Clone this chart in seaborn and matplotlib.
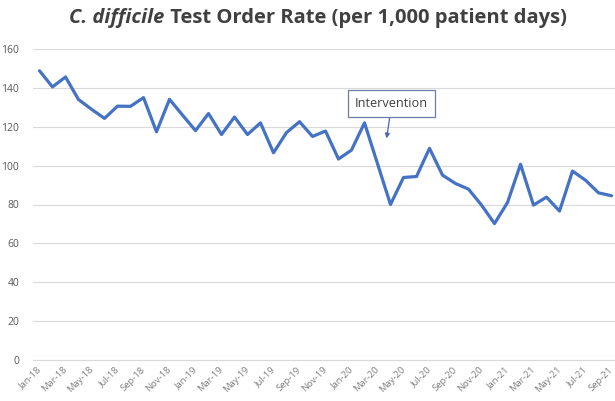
import matplotlib
matplotlib.use('Agg')
import matplotlib.pyplot as plt
import pandas as pd
import seaborn as sns

MONTHS = ['Jan', 'Feb', 'Mar', 'Apr', 'May', 'Jun', 'Jul', 'Aug', 'Sep', 'Oct', 'Nov', 'Dec']
YEARS = ['18', '19', '20', '21']
months = [m + '-' + y for y in YEARS for m in MONTHS][:45]

rate = [148.8, 140.5, 145.6, 134.0, 129.0, 124.3, 130.6, 130.5, 135.0, 117.4,
        134.1, 126.0, 118.0, 126.8, 116.0, 125.0, 116.0, 122.0, 106.6, 117.0,
        122.6, 115.0, 117.8, 103.4, 108.0, 122.0, 101.0, 80.0, 93.9, 94.4,
        108.9, 95.1, 90.8, 87.9, 79.7, 70.2, 81.0, 100.7, 79.7, 83.8,
        76.6, 97.2, 92.5, 86.0, 84.5]

TITLE_ITALIC = 'C. difficile'
TITLE_REST = ' Test Order Rate (per 1,000 patient days)'
NOTE = 'Intervention'
NOTE_AT = 26.7  # month index where the arrow points


def main():
    df = pd.DataFrame({'idx': range(len(months)), 'month': months, 'rate': rate})

    sns.set_style('white')
    plt.rcParams['font.family'] = ['Open Sans', 'DejaVu Sans']

    fig = plt.figure(figsize=(6.15, 4.01), dpi=100)
    ax = fig.add_axes([33 / 615, 41 / 401, 585 / 615, 311 / 401])

    sns.lineplot(data=df, x='idx', y='rate', color='#4472C4', linewidth=2.3, ax=ax)

    ax.set_xlim(-0.5, len(months) - 0.5)
    ax.set_ylim(0, 160)
    ax.set_yticks(range(0, 161, 20))
    ax.grid(axis='y', color='#d9d9d9', linewidth=0.8)
    ax.set_xticks(df['idx'][::2])
    ax.set_xticklabels(df['month'][::2], rotation=45, ha='right', va='center',
                       rotation_mode='anchor', fontsize=6.8, color='#7f7f7f')
    # Excel-style tick marks sit between categories
    ax.set_xticks([i - 0.5 for i in range(0, len(months) + 1, 2)], minor=True)
    ax.tick_params(axis='x', which='major', length=0, pad=6)
    ax.tick_params(axis='x', which='minor', length=4, direction='inout', color='#e3e3e3')
    ax.tick_params(axis='y', length=0, labelsize=7.5, labelcolor='#595959', pad=10)
    for s in ['top', 'right', 'left']:
        ax.spines[s].set_visible(False)
    ax.spines['bottom'].set_color('#d9d9d9')
    ax.set_xlabel('')
    ax.set_ylabel('')

    ax.annotate(NOTE, xy=(NOTE_AT, 114), xytext=(27.1, 132), ha='center', va='center',
                fontsize=9.2, color='#404040',
                bbox=dict(boxstyle='square,pad=0.55', fc='white', ec='#6a7da6', lw=0.9),
                arrowprops=dict(arrowstyle='-|>', color='#4a6aa8', lw=0.9, mutation_scale=7,
                                shrinkA=0, shrinkB=0))

    # two-part title: italic species name followed by regular bold text
    t1 = fig.text(0, 0.955, TITLE_ITALIC, fontsize=14.5, fontweight='bold', style='italic',
                  color='#404040', va='center', ha='left')
    t2 = fig.text(0, 0.955, TITLE_REST, fontsize=14.5, fontweight='bold',
                  color='#404040', va='center', ha='left')
    fig.canvas.draw()
    r = fig.canvas.get_renderer()
    w1 = t1.get_window_extent(r).width
    w2 = t2.get_window_extent(r).width
    start = (318 - (w1 + w2) / 2) / (fig.get_figwidth() * fig.dpi)
    t1.set_x(start)
    t2.set_x(start + w1 / (fig.get_figwidth() * fig.dpi))

    plt.savefig('out.png', dpi=100)


if __name__ == '__main__':
    main()
